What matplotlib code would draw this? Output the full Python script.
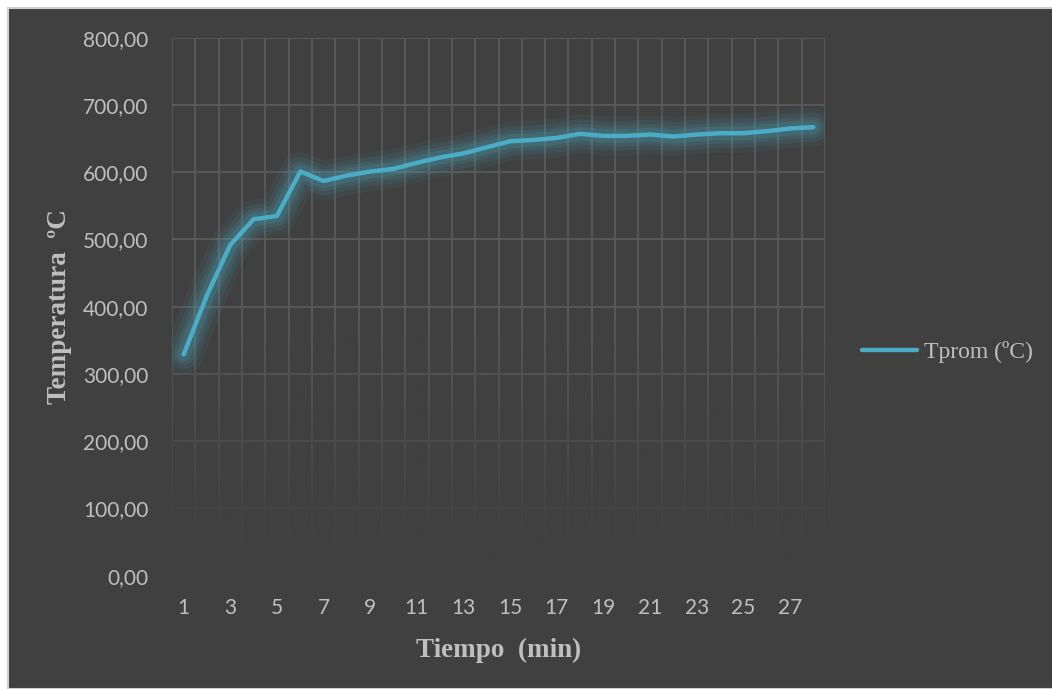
import matplotlib
matplotlib.use("Agg")
import matplotlib.pyplot as plt
import numpy as np
from matplotlib.patches import Rectangle
from matplotlib.ticker import FuncFormatter

# Tiempo (min) vs temperatura promedio
minutos = list(range(1, 29))
tprom = [329, 417, 492, 530, 535, 601, 587, 595, 601, 605,
         614, 622, 628, 637, 646, 648, 651, 657, 654, 654,
         656, 653, 656, 658, 658, 661, 665, 667]
yticks = [0, 100, 200, 300, 400, 500, 600, 700, 800]
xticks = list(range(1, 29, 2))

bg = "#404040"
txt = "#bfbfbf"
azul = "#4bacc6"

fig = plt.figure(figsize=(10.52, 6.89), dpi=100)
fig.patch.set_facecolor("white")
fig.patches.append(Rectangle((8 / 1052, 0), 1, 1 - 8 / 689, transform=fig.transFigure,
                             facecolor=bg, edgecolor="#d0d0d0", lw=1.5, zorder=-10))

ax = fig.add_axes([172 / 1052, 1 - 575.7 / 689, 653 / 1052, 538 / 689])
ax.set_facecolor(bg)
ax.set_axisbelow(True)

ax.set_xlim(0.5, 28.5)
ax.set_ylim(0, 800)
ax.set_yticks(yticks)
ax.set_xticks(xticks)
ax.set_xticks(np.arange(0.5, 29.0, 1.0), minor=True)
ax.yaxis.set_major_formatter(FuncFormatter(lambda v, p: f"{v:.2f}".replace(".", ",")))

ax.grid(True, which="major", axis="y", color="#5a5a5a", lw=1.3)
ax.grid(True, which="minor", axis="x", color="#5a5a5a", lw=1.3)
ax.tick_params(which="both", length=0, colors=txt, labelsize=15)
ax.tick_params(axis="y", pad=17)
ax.tick_params(axis="x", pad=16)
for lab in ax.get_xticklabels() + ax.get_yticklabels():
    lab.set_fontfamily("Lato")
for s in ax.spines.values():
    s.set_visible(False)

# fade the grid towards the bottom
vals = np.linspace(0, 800, 400)
alpha = np.clip((380 - vals) / (380 - 40), 0, 1)
grad = np.zeros((400, 1, 4))
grad[..., :3] = np.array([0x40, 0x40, 0x40]) / 255
grad[:, 0, 3] = alpha
ax.imshow(grad, extent=[0.5, 28.5, 0, 800], origin="lower", aspect="auto", zorder=1,
          interpolation="bilinear")
ax.set_xlim(0.5, 28.5)
ax.set_ylim(0, 800)

# glow
for w, a in [(28, 0.07), (21, 0.09), (15, 0.12), (10, 0.16)]:
    ax.plot(minutos, tprom, color=azul, lw=w, alpha=a, solid_capstyle="round",
            solid_joinstyle="round", zorder=2)
ax.plot(minutos, tprom, color=azul, lw=3.2, solid_capstyle="round",
        solid_joinstyle="round", zorder=3, label="Tprom (ºC)")

ax.set_xlabel("Tiempo  (min)", fontfamily="Liberation Serif", fontweight="bold",
              fontsize=19.5, color=txt)
ax.xaxis.set_label_coords(0.5, -0.115)
ax.set_ylabel("Temperatura  ºC", fontfamily="Liberation Serif", fontweight="bold",
              fontsize=19.5, color=txt)
ax.yaxis.set_label_coords(-0.153, 0.5)

leg = ax.legend(loc="center left", bbox_to_anchor=(841 / 1052, 1 - 352 / 689),
                bbox_transform=fig.transFigure, frameon=False, handlelength=2.3,
                handletextpad=0.3, prop={"family": "Liberation Serif", "size": 17})
for t in leg.get_texts():
    t.set_color(txt)

fig.savefig("out.png", dpi=100, facecolor=fig.get_facecolor())
